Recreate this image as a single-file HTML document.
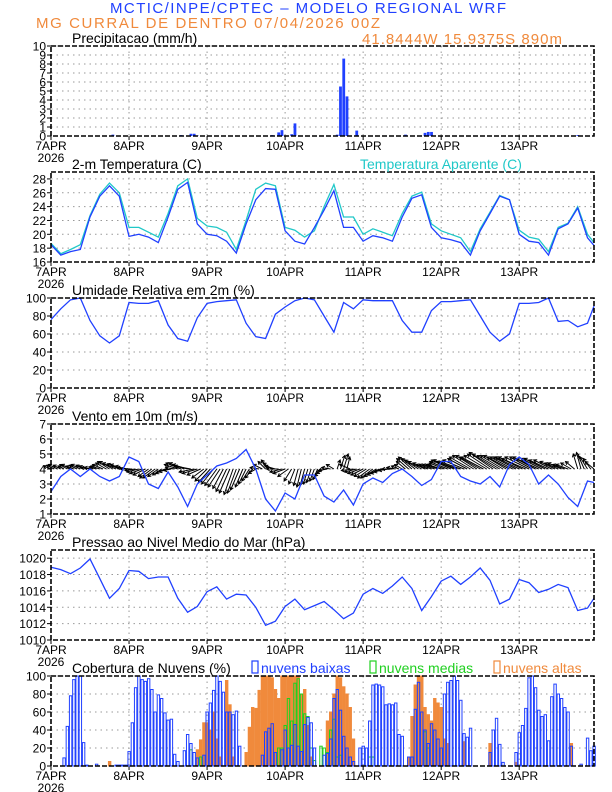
<!DOCTYPE html>
<html><head><meta charset="utf-8">
<style>
html,body{margin:0;padding:0;background:#fff;}
svg{display:block;font-family:"Liberation Sans",sans-serif;}
</style></head>
<body>
<svg id="chart" width="612" height="792" viewBox="0 0 612 792" xmlns="http://www.w3.org/2000/svg">
<text x="308" y="13" text-anchor="middle" font-size="15" fill="#2040ff" textLength="396">MCTIC/INPE/CPTEC – MODELO REGIONAL WRF</text>
<text x="36" y="28" font-size="15" fill="#f08a3c" textLength="344">MG CURRAL DE DENTRO    07/04/2026 00Z</text>
<text x="362" y="44" font-size="15" fill="#f08a3c" textLength="200">41.8444W 15.9375S 890m</text>
<g id="panels"></g>
</svg>
<script>
// ---------- data ----------
const dayLabels = ["7APR","8APR","9APR","10APR","11APR","12APR","13APR"];
const hours3 = [0,3,6,9,12,15,18,21,24,27,30,33,36,39,42,45,48,51,54,57,60,63,66,69,72,75,78,81,84,87,90,93,96,99,102,105,108,111,114,117,120,123,126,129,132,135,138,141,144,147,150,153,156,159,162,165,167];
const precip = [
0,0,0,0,0,0,0,0,0,0,0,0,0,0,0,0,0,0,0,0.15,0,0,0,0,
0,0,0,0,0,0,0,0,0,0,0,0,0,0,0,0,0.1,0,0,0.25,0.25,0.05,0,0,
0,0,0,0,0,0,0,0,0,0,0,0,0,0,0,0,0,0,0,0,0.1,0,0.4,0.65,
0,0,0.2,1.4,0,0,0,0,0,0,0,0,0,0,0,0,0.15,5.5,8.6,4.4,0,0,0.6,0,
0,0,0,0,0,0,0,0,0,0,0,0,0,0.15,0,0,0,0,0,0.35,0.45,0.45,0,0,
0,0,0,0,0,0,0,0,0,0,0,0,0,0,0,0,0,0,0,0,0,0,0,0,
0,0,0,0,0,0,0,0,0,0,0,0,0,0,0,0,0,0,0.1,0,0,0,0,0];
const temp2m = [18.5,17.0,17.5,17.8,22.5,25.5,27.0,25.5, 19.7,20.0,19.6,18.8,22.5,26.5,27.5,21.5, 20.0,19.8,19.0,17.3,21.5,25.0,26.6,26.5, 20.5,19.0,18.6,21.0,23.5,26.3,21.0,21.0, 19.0,19.8,19.5,19.0,22.5,25.2,25.7,21.0, 19.5,19.2,18.8,17.0,20.5,23.0,25.5,25.0, 20.0,19.0,18.8,17.0,20.8,21.5,23.8,19.5, 18.4];
const tempApp = [18.7,17.2,17.8,18.5,22.7,25.8,27.4,26.0, 21.0,21.0,20.3,19.6,23.0,27.0,28.0,22.3, 21.2,21.0,20.3,17.8,22.0,26.5,27.4,27.0, 21.0,20.6,19.6,20.5,24.0,27.2,22.5,22.5, 20.0,20.8,20.3,19.8,23.0,25.5,26.1,21.5, 20.5,20.0,19.5,17.5,20.8,23.2,25.6,25.0, 20.6,19.6,19.3,17.5,21.0,21.6,24.0,20.0, 18.8];
const rh = [76,88,98,100,75,58,50,58, 95,94,94,97,70,55,52,78, 94,96,97,98,72,57,55,82, 90,97,100,98,80,62,95,88, 98,97,97,97,75,62,62,86, 96,96,97,98,80,62,52,60, 94,94,95,100,74,75,68,72, 91];
const windSpd = [2.5,3.5,4.0,3.5,4.0,3.5,3.2,3.5, 4.8,4.5,3.0,2.7,3.8,2.8,1.5,3.0, 3.6,4.2,4.4,4.7,5.3,4.0,2.0,1.2, 2.4,2.0,3.6,3.6,2.2,1.8,2.6,1.6, 3.0,3.4,3.1,3.7,4.0,3.5,2.9,3.3, 4.5,4.5,3.5,3.2,3.0,3.5,2.8,4.3, 4.8,4.3,3.0,3.6,3.0,2.1,1.5,3.2, 3.1];
const windU = [
-0.5,-0.5,-0.6,-0.5,-0.4,-0.5,-0.6,-0.5,-0.5,-0.6,-0.5,-0.5,-0.6,-0.6,-0.5,-0.6,-0.7,-0.7,-0.8,-0.9,-0.9,-0.8,-0.8,-0.7,
-0.8,-0.8,-0.7,-0.8,-0.8,-0.8,-0.7,-0.8,-0.8,-0.7,-0.6,-0.6,-0.6,-0.5,-0.6,-0.9,-1.0,-1.0,-1.0,-1.1,-1.0,-1.0,-0.9,-0.8,
-0.8,-0.8,-0.8,-0.8,-0.8,-0.7,-0.7,-0.7,-0.6,-0.6,-0.6,-0.5,-0.5,-0.5,-0.5,-0.5,-0.6,-0.6,-0.5,-0.5,-0.6,-0.7,-0.8,-0.8,
-0.8,-0.7,-0.5,-0.4,-0.3,-0.3,-0.3,-0.3,-0.3,-0.3,-0.3,-0.4,-0.5,-0.6,-0.6,-0.5,0.2,0.3,0.3,0.2,-0.7,-0.8,-0.8,-0.8,
-0.8,-0.8,-0.8,-0.8,-0.8,-0.8,-0.8,-0.8,-0.7,-0.7,-0.6,-0.5,-0.5,-0.6,-0.8,-0.9,-0.9,-0.9,-0.9,-0.8,-0.8,-0.8,-0.8,-0.8,
-0.9,-1.0,-1.2,-1.3,-1.4,-1.4,-1.4,-1.4,-1.3,-1.4,-1.4,-1.4,-1.4,-1.5,-1.5,-1.5,-1.6,-1.6,-1.5,-1.5,-1.5,-1.5,-1.5,-1.5,
-1.6,-1.6,-1.6,-1.6,-1.5,-1.5,-1.5,-1.4,-1.4,-1.3,-1.2,-1.0,-0.9,-0.9,-0.8,-0.8,-0.7,-0.6,-0.3,-0.3,-0.4,-0.5,-0.5,-0.6];
const windV = [
0.2,0.25,0.3,0.25,0.2,0.3,0.3,0.2,0.25,0.3,0.25,0.2,0.1,0.1,0.15,0.2,0.3,0.4,0.5,0.5,0.4,0.35,0.3,0.2,
0.1,0.0,-0.1,-0.2,-0.3,-0.4,-0.5,-0.6,-0.6,-0.5,-0.4,-0.3,-0.2,-0.1,0.1,0.3,0.4,0.4,0.3,0.2,-0.2,-0.3,-0.4,-0.6,
-0.8,-0.9,-1.0,-1.1,-1.2,-1.3,-1.5,-1.6,-1.7,-1.6,-1.4,-1.2,-1.0,-0.8,-0.6,-0.3,0.1,0.3,0.5,0.6,0.4,0.2,0.0,-0.2,
-0.3,-0.5,-0.8,-1.0,-1.1,-1.2,-1.1,-1.0,-0.9,-0.8,-0.7,-0.5,-0.3,-0.1,0.1,0.3,0.6,0.9,1.0,0.8,0.3,-0.1,-0.2,-0.3,
-0.4,-0.5,-0.6,-0.6,-0.5,-0.4,-0.3,-0.2,-0.1,0.0,0.1,0.2,0.3,0.5,0.7,0.8,0.7,0.6,0.5,0.4,0.3,0.3,0.3,0.3,
0.3,0.4,0.5,0.6,0.6,0.5,0.5,0.6,0.7,0.8,0.9,0.9,0.8,0.8,0.9,1.0,1.1,1.0,0.9,0.9,0.9,0.8,0.8,0.8,
0.8,0.8,0.7,0.8,0.8,0.8,0.7,0.7,0.7,0.6,0.6,0.5,0.4,0.4,0.3,0.3,0.4,0.5,1.0,1.1,0.9,0.8,0.7,0.5];
const pressure = [1018.9,1018.6,1018.1,1018.8,1019.9,1017.5,1015.1,1016.3, 1018.5,1018.4,1017.5,1017.7,1017.7,1015.1,1013.4,1014.1, 1015.9,1016.5,1015.0,1015.6,1015.5,1014.0,1011.8,1012.3, 1014.1,1015.0,1013.7,1014.2,1014.7,1013.7,1012.6,1013.3, 1015.6,1016.3,1015.7,1016.6,1017.7,1016.3,1013.6,1015.3, 1017.2,1017.8,1016.8,1017.7,1018.8,1017.3,1014.4,1015.0, 1017.4,1017.0,1015.8,1016.2,1016.8,1016.4,1013.6,1013.9, 1015.1];
const cloudLow = [
0,0,0,0,9,44,78,96,100,100,26,1,0,0,2,0,0,0,0,0,1,1,1,1,
16,48,87,100,96,94,97,85,60,79,75,59,51,52,13,5,0,17,35,25,15,9,0,12,
60,70,84,100,94,82,60,60,57,61,22,0,0,0,0,0,0,12,38,42,47,15,0,18,
40,20,23,46,22,16,46,54,48,20,0,0,12,14,30,75,85,62,33,20,10,5,0,20,
22,20,50,90,91,90,88,68,69,68,70,35,33,0,10,10,63,93,60,40,25,47,40,30,
20,80,93,95,100,95,73,36,32,42,0,0,0,0,0,15,40,53,24,4,0,0,0,15,
37,45,64,98,100,87,62,55,57,28,77,91,80,75,65,60,22,0,0,2,0,31,17,22];
const cloudMid = [
0,0,0,0,0,0,0,0,0,0,0,0,0,0,0,0,0,0,0,0,0,0,0,0,
0,0,0,0,0,0,0,0,0,0,0,0,0,0,0,0,0,0,0,18,0,0,10,0,
0,0,0,0,0,0,0,0,0,0,0,0,0,0,0,0,0,0,0,0,0,0,20,20,
45,75,50,92,97,80,58,55,20,6,0,22,20,15,40,52,10,12,0,0,0,0,0,0,
0,0,10,10,0,0,0,0,0,0,0,0,0,0,0,0,0,0,0,38,20,0,0,0,
0,0,0,0,0,0,0,0,0,0,0,0,0,0,0,0,0,0,0,0,0,0,0,0,
0,0,0,0,0,0,0,0,0,0,0,0,0,0,0,0,0,0,0,0,0,0,0,0];
const cloudHigh = [
0,0,0,0,0,0,0,0,0,0,0,0,0,0,0,0,0,0,5,0,0,0,0,0,
0,0,0,0,0,0,0,0,0,0,0,0,0,0,0,0,0,0,0,0,0,18,29,48,
48,40,60,30,10,0,95,68,10,0,0,0,15,43,65,64,84,100,100,100,98,85,75,100,
100,100,100,100,100,80,85,45,10,0,0,0,0,50,60,80,100,98,88,80,65,30,0,0,
0,0,0,0,0,0,0,0,0,0,0,0,0,0,10,55,90,100,100,65,57,50,75,70,
65,30,25,0,0,0,0,27,0,0,0,0,0,0,0,25,0,0,0,0,0,0,0,4,
0,0,0,0,0,0,0,0,0,0,0,0,0,0,0,0,25,0,0,0,0,0,0,0];

// ---------- layout ----------
const NS = "http://www.w3.org/2000/svg";
const X0 = 51, X1 = 594, HMAX = 167;
const PH = 90;
const root = document.getElementById('panels');
const BLUE = "#2040ff", CYAN = "#20c8c8", ORANGE = "#f08a3c", GREEN = "#20d020";
function xOf(h){ return X0 + (X1 - X0) * h / HMAX; }
function mk(tag, attrs, parent){
  const e = document.createElementNS(NS, tag);
  for (const k in attrs) e.setAttribute(k, attrs[k]);
  (parent || root).appendChild(e);
  return e;
}
function panel(name, top, ymin, ymax, ticks, title){
  const g = mk('g', {});
  
  
  const yOf = v => top + PH - (v - ymin) / (ymax - ymin) * PH;
  ticks.forEach(t => {
    const y = yOf(t);
    if (t !== ymin) {
      const l = mk('line', {x1: X0, x2: X1, y1: y, y2: y, stroke: '#999', 'stroke-width': 1, 'stroke-dasharray': '1.5,4'}, g);
      
      
    }
    const tk = mk('line', {x1: X0 - 4, x2: X0, y1: y, y2: y, stroke: '#000'}, g);
    
    
    const tx = mk('text', {x: X0 - 5, y: y + 4.5, 'text-anchor': 'end', 'font-size': 12}, g);
    tx.textContent = t;
    
    
  });
  dayLabels.forEach((d, i) => {
    const x = xOf(i * 24);
    if (i > 0) {
      const l = mk('line', {x1: x, x2: x, y1: top, y2: top + PH, stroke: '#999', 'stroke-width': 1, 'stroke-dasharray': '1.5,4'}, g);
      
      
    }
    const tk = mk('line', {x1: x, x2: x, y1: top + PH, y2: top + PH + 4, stroke: '#000'}, g);
    
    
    const tx = mk('text', {x: x, y: top + PH + 14, 'text-anchor': 'middle', 'font-size': 12}, g);
    tx.textContent = d;
    
    
  });
  const yr = mk('text', {x: X0, y: top + PH + 26, 'text-anchor': 'middle', 'font-size': 12}, g);
  yr.textContent = '2026';
  
  
  const tt = mk('text', {x: 72, y: top - 3, 'font-size': 14}, g);
  tt.textContent = title;
  
  
  const marks = mk('g', {}, g);
  
  
  const fr = mk('rect', {x: X0, y: top, width: X1 - X0, height: PH, fill: 'none', stroke: '#000', 'stroke-width': 1.6, 'stroke-dasharray': '5,2'}, g);
  
  
  return {g: marks, yOf, top};
}
function line(p, hrs, vals, color, name){
  const d = vals.map((v, i) => (i ? 'L' : 'M') + xOf(hrs[i]).toFixed(1) + ',' + p.yOf(v).toFixed(1)).join('');
  const e = mk('path', {d, fill: 'none', stroke: color, 'stroke-width': 1.3}, p.g);
  
  
}

const p1 = panel('precipitation', 46, 0, 10, [0,1,2,3,4,5,6,7,8,9,10], 'Precipitacao (mm/h)');
precip.forEach((v, h) => {
  if (v <= 0) return;
  const y = p1.yOf(v);
  const b = mk('rect', {x: xOf(h) - 1.3, y: y, width: 2.8, height: p1.yOf(0) - y, fill: BLUE}, p1.g);
  
  
});

const p2 = panel('temperature', 172, 16, 29, [16,18,20,22,24,26,28], '2-m Temperatura (C)');
line(p2, hours3, tempApp, CYAN, 'apparent-temperature-line');
line(p2, hours3, temp2m, BLUE, 'temperature-line');
const lt = mk('text', {x: 360, y: 169, 'font-size': 14, fill: CYAN});
lt.textContent = 'Temperatura Aparente (C)';



const p3 = panel('humidity', 298, 0, 100, [0,20,40,60,80,100], 'Umidade Relativa em 2m (%)');
line(p3, hours3, rh, BLUE, 'humidity-line');

const p4 = panel('wind', 424, 1, 7, [1,2,3,4,5,6,7], 'Vento em 10m (m/s)');
const ppu = PH / 6;
windU.forEach((u, h) => {
  const x = xOf(h), y = p4.yOf(4);
  const x2 = x + u * ppu, y2 = y - windV[h] * ppu;
  const len = Math.hypot(x2 - x, y2 - y) || 1;
  const ux = (x2 - x) / len, uy = (y2 - y) / len;
  const hl = 3.5;
  const ax = x2 - hl * (ux * 0.87 - uy * 0.5), ay = y2 - hl * (uy * 0.87 + ux * 0.5);
  const bx = x2 - hl * (ux * 0.87 + uy * 0.5), by = y2 - hl * (uy * 0.87 - ux * 0.5);
  const a = mk('path', {d: `M${x},${y}L${x2},${y2}M${ax},${ay}L${x2},${y2}L${bx},${by}`, stroke: '#000', 'stroke-width': 1, fill: 'none'}, p4.g);
  
  
});
line(p4, hours3, windSpd, BLUE, 'wind-speed-line');

const p5 = panel('pressure', 550, 1010, 1021, [1010,1012,1014,1016,1018,1020], 'Pressao ao Nivel Medio do Mar (hPa)');
line(p5, hours3, pressure, BLUE, 'pressure-line');

const p6 = panel('clouds', 676, 0, 100, [0,20,40,60,80,100], '');
function cloudBars(arr, color, filled, name){
  arr.forEach((v, h) => {
    if (v <= 0) return;
    const y = p6.yOf(v);
    const b = mk('rect', {x: xOf(h) - 1.1, y: y, width: 2.4, height: p6.yOf(0) - y,
      fill: filled ? color : 'none', stroke: color, 'stroke-width': 1}, p6.g);
    
    
  });
}
cloudBars(cloudHigh, ORANGE, true, 'high-cloud-bar');
cloudBars(cloudMid, GREEN, false, 'mid-cloud-bar');
cloudBars(cloudLow, BLUE, false, 'low-cloud-bar');
const lg = mk('g', {});


const ct = mk('text', {x: 72, y: 673, 'font-size': 14}, lg);
ct.textContent = 'Cobertura de Nuvens (%)';


[[252, 'nuvens baixas', BLUE, 'legend-low-clouds'], [370, 'nuvens medias', GREEN, 'legend-mid-clouds'], [494, 'nuvens altas', ORANGE, 'legend-high-clouds']].forEach(([x, t, c, n]) => {
  const r = mk('rect', {x: x, y: 661, width: 6, height: 12, fill: 'none', stroke: c, 'stroke-width': 1.2}, lg);
  
  
  const tx = mk('text', {x: x + 9, y: 673, 'font-size': 14, fill: c}, lg);
  tx.textContent = t;
  
  
});
</script>
</body></html>
